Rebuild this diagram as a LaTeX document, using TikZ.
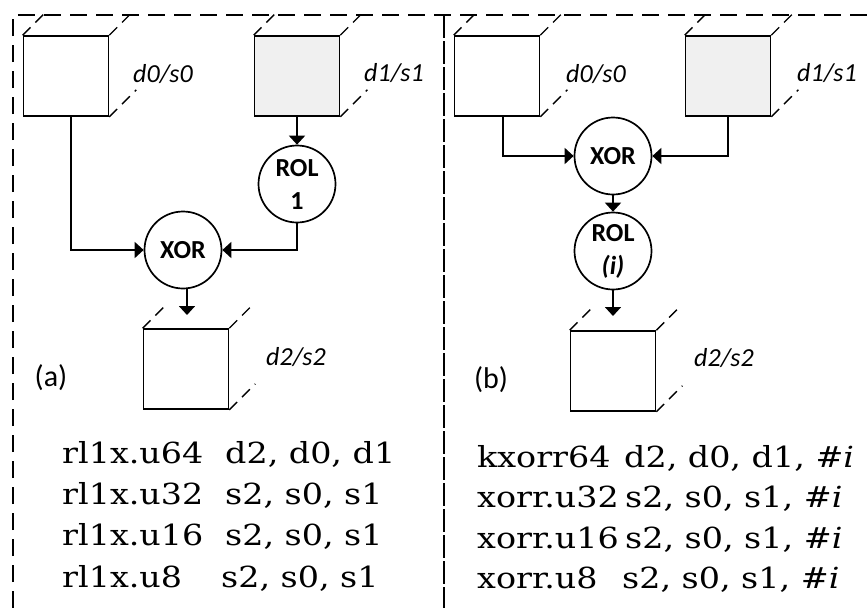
\documentclass[tikz,border=0pt]{standalone}
\usepackage{fontspec}
\setmainfont{Carlito}
\newfontfamily\codefont[FakeStretch=1.15]{DejaVu Serif}
\usetikzlibrary{arrows.meta}

\begin{document}
\begin{tikzpicture}[x=1pt,y=-1pt,
  reg/.style={draw, line width=1.7pt, minimum width=85pt, minimum height=80pt, inner sep=0pt},
  regshade/.style={reg, fill=black!6},
  op/.style={circle, draw, line width=1.7pt, minimum size=77pt, inner sep=0pt, align=center,
    font=\bfseries\fontsize{26}{33}\selectfont},
  lbl/.style={inner sep=0pt, font=\itshape\fontsize{26}{30}\selectfont},
  tag/.style={inner sep=0pt, font=\fontsize{30}{36}\selectfont},
  wire/.style={line width=1.8pt, -{Triangle[length=9pt,width=16pt]}},
  cubeedge/.style={line width=1.4pt, dash pattern=on 11pt off 7pt},
  frame/.style={line width=1.8pt, dash pattern=on 17pt off 9pt},
  divider/.style={line width=1.8pt, dash pattern=on 23pt off 3pt},
  code/.style={anchor=base west, inner sep=0pt, font=\codefont\fontsize{29}{32}\selectfont},
]
\useasboundingbox (0,0) rectangle (868,608);

% outer frame and panel divider
\draw[frame] (13,608) -- (13,15) -- (868,15);
\draw[divider] (444,15) -- (444,608);

% ---------- panel (a) ----------
\node[reg]      (d0L) at (66,76)  {};
\node[regshade] (d1L) at (297,76) {};
\node[op]       (rolL) at (297,184) {ROL\\1};
\node[op]       (xorL) at (183,250) {XOR};
\node[reg]      (d2L) at (186,369) {};

\node[lbl] at (163,74)  {d0/s0};
\node[lbl] at (394,73)  {d1/s1};
\node[lbl] at (296,357) {d2/s2};
\node[tag] at (51,378)  {(a)};

% register depth edges
\foreach \b in {d0L,d1L}{
  \draw[cubeedge] (\b.north west) -- ++(21,-21);
  \draw[cubeedge] (\b.north east) -- ++(21,-21);
  \draw[cubeedge] (\b.south east) -- ++(27,-27);
}
\draw[cubeedge] (d2L.north west) -- ++(23,-23);
\draw[cubeedge] (d2L.north east) -- ++(23,-23);
\draw[cubeedge] (d2L.south east) -- ++(26,-26);

\coordinate (inL) at (187,315);
\draw[wire] ([xshift=5pt]d0L.south) |- (xorL.west);
\draw[wire] (d1L.south) -- (rolL.north);
\draw[wire] (rolL.south) |- (xorL.east);
\draw[wire] (xorL.south -| inL) -- (inL);

\node[code] at (62,463)  {rl1x.u64};  \node[code] at (225,463) {d2, d0, d1};
\node[code] at (62,504)  {rl1x.u32};  \node[code] at (225,504) {s2, s0, s1};
\node[code] at (62,545)  {rl1x.u16};  \node[code] at (225,545) {s2, s0, s1};
\node[code] at (62,587)  {rl1x.u8};   \node[code] at (221,587) {s2, s0, s1};

% ---------- panel (b) ----------
\node[reg]      (d0R) at (497,76) {};
\node[regshade] (d1R) at (728,76) {};
\node[op]       (xorR) at (613,156) {XOR};
\node[op]       (rolR) at (613,251) {ROL\\\textit{(i)}};
\node[reg]      (d2R) at (613,371) {};

\node[lbl] at (596,74)  {d0/s0};
\node[lbl] at (827,73)  {d1/s1};
\node[lbl] at (724,358) {d2/s2};
\node[tag] at (491,380) {(b)};

\foreach \b in {d0R,d1R}{
  \draw[cubeedge] (\b.north west) -- ++(21,-21);
  \draw[cubeedge] (\b.north east) -- ++(21,-21);
  \draw[cubeedge] (\b.south east) -- ++(27,-27);
}
\draw[cubeedge] (d2R.north west) -- ++(23,-23);
\draw[cubeedge] (d2R.north east) -- ++(23,-23);
\draw[cubeedge] (d2R.south east) -- ++(26,-26);

\coordinate (inR) at (613,316);
\draw[wire] ([xshift=6pt]d0R.south) |- (xorR.west);
\draw[wire] (d1R.south) |- (xorR.east);
\draw[wire] (xorR.south) -- (rolR.north);
\draw[wire] (rolR.south) -- (inR);

\node[code] at (477,467) {kxorr64};   \node[code] at (624,467) {d2, d0, d1, \textit{\#i}};
\node[code] at (477,507) {xorr.u32};  \node[code] at (625,507) {s2, s0, s1, \textit{\#i}};
\node[code] at (477,548) {xorr.u16};  \node[code] at (625,548) {s2, s0, s1, \textit{\#i}};
\node[code] at (477,588) {xorr.u8};   \node[code] at (622,588) {s2, s0, s1, \textit{\#i}};
\end{tikzpicture}
\end{document}
